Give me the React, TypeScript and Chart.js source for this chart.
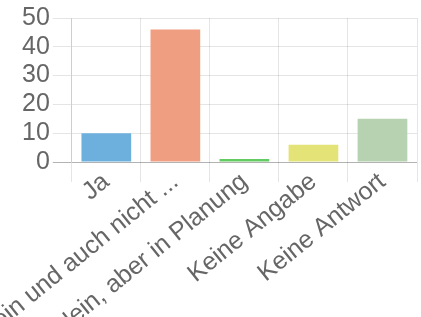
import React, { useEffect, useRef } from "react";
import { Chart, registerables } from "chart.js";

Chart.register(...registerables);

const categories = [
  "Ja",
  "Nein und auch nicht ...",
  "Nein, aber in Planung",
  "Keine Angabe",
  "Keine Antwort",
];
const values = [10, 46, 1, 6, 15];
const barColors = ["#6db0dd", "#f09e82", "#62cc62", "#e3e378", "#b6d2b0"];
const yTicks = [0, 10, 20, 30, 40, 50];

const FONT = "'Liberation Sans', Arial, sans-serif";

export default function App() {
  const ref = useRef<HTMLCanvasElement | null>(null);

  useEffect(() => {
    document.body.style.margin = "0";
    const canvas = ref.current;
    if (!canvas) return;
    const chart = new Chart(canvas, {
      type: "bar",
      data: {
        labels: categories,
        datasets: [
          {
            data: values,
            backgroundColor: barColors,
            borderWidth: 0,
          },
        ],
      },
      options: {
        animation: false,
        responsive: false,
        maintainAspectRatio: false,
        layout: { padding: { left: 19, right: 4, top: 7, bottom: 0 } },
        plugins: {
          legend: { display: false },
          tooltip: { enabled: false },
        },
        scales: {
          x: {
            grid: {
              color: "rgba(0,0,0,0.1)",
              tickLength: 20,
              lineWidth: 1,
            },
            border: { display: false },
            ticks: {
              color: "#666",
              font: { family: FONT, size: 25 },
              minRotation: 39,
              maxRotation: 39,
              autoSkip: false,
              padding: -15,
            },
          },
          y: {
            min: 0,
            max: 50,
            afterBuildTicks: (axis: any) => {
              axis.ticks = yTicks.map((v) => ({ value: v }));
            },
            grid: {
              color: (ctx: any) =>
                ctx.tick && ctx.tick.value === 0 ? "rgba(0,0,0,0.3)" : "rgba(0,0,0,0.1)",
              tickLength: 19,
            },
            border: { display: true, color: "rgba(0,0,0,0.1)" },
            ticks: {
              color: "#666",
              font: { family: FONT, size: 25 },
              padding: 3,
              autoSkip: false,
            },
          },
        },
      },
    });
    return () => chart.destroy();
  }, []);

  return (
    <div style={{ width: 421, height: 317 }}>
      <canvas ref={ref} width={421} height={317} style={{ display: "block" }} />
    </div>
  );
}
